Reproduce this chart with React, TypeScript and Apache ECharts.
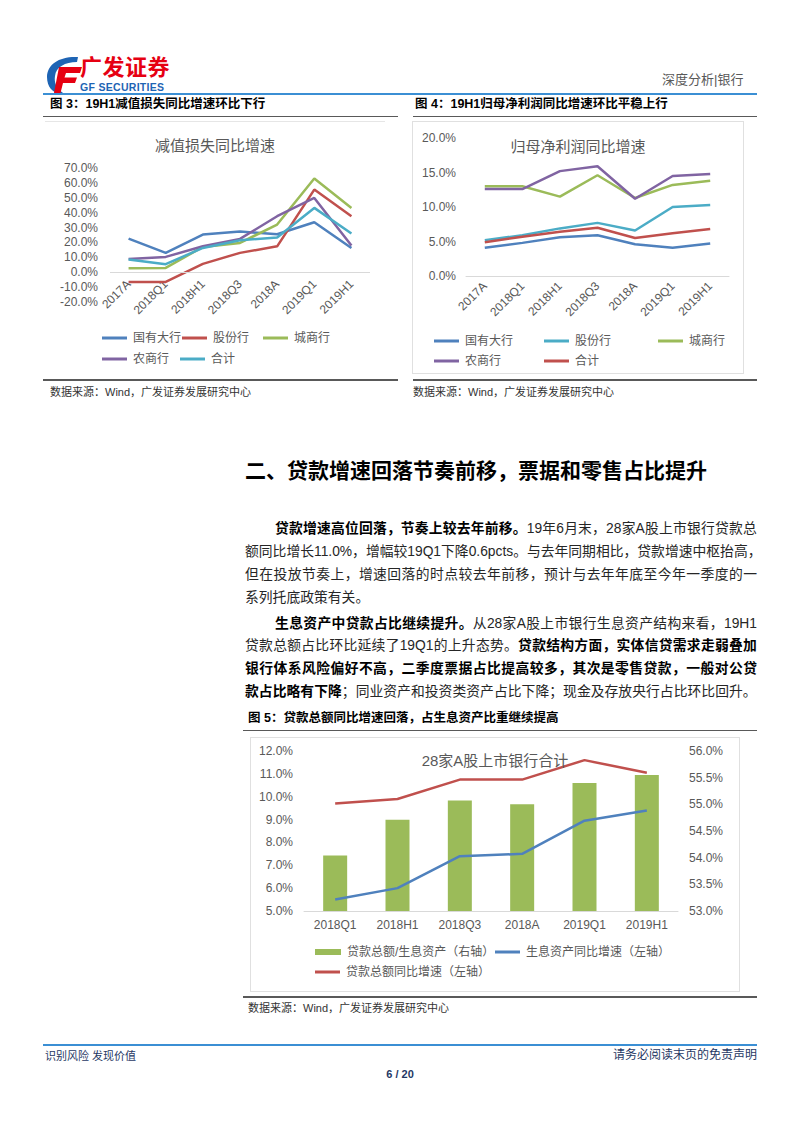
import React, { useEffect, useRef } from "react";
import * as echarts from "echarts";

const FONT = '"Liberation Sans", "Noto Sans CJK SC", Arial, sans-serif';

// ---------- Data ----------
const cats34 = ["2017A", "2018Q1", "2018H1", "2018Q3", "2018A", "2019Q1", "2019H1"];
const groupNames = ["国有大行", "股份行", "城商行", "农商行", "合计"];

// 图3 减值损失同比增速 (%)
const impGuoyou = [22.6, 13.0, 25.3, 27.3, 25.5, 33.6, 16.3];
const impGufen = [-6.5, -6.5, 5.6, 13.0, 17.4, 55.5, 37.6];
const impChengshang = [2.7, 2.9, 17.0, 19.7, 32.0, 62.9, 43.2];
const impNongshang = [8.9, 10.3, 17.4, 22.4, 37.6, 49.9, 17.9];
const impTotal = [8.5, 5.4, 16.3, 21.5, 23.3, 43.2, 26.0];

// 图4 归母净利润同比增速 (%)
const npGuoyou = [4.1, 4.8, 5.6, 5.9, 4.6, 4.1, 4.7];
const npGufen = [5.2, 5.9, 6.9, 7.7, 6.6, 10.0, 10.3];
const npChengshang = [13.0, 13.0, 11.5, 14.6, 11.3, 13.2, 13.8];
const npNongshang = [12.6, 12.6, 15.2, 15.9, 11.2, 14.5, 14.8];
const npTotal = [4.9, 5.7, 6.4, 7.0, 5.5, 6.2, 6.8];

// 图5
const cats5 = ["2018Q1", "2018H1", "2018Q3", "2018A", "2019Q1", "2019H1"];
const loanShare = [54.04, 54.71, 55.07, 55.0, 55.4, 55.55]; // 右轴
const iaGrowth = [5.5, 6.0, 7.4, 7.5, 8.95, 9.4]; // 左轴
const loanGrowth = [9.7, 9.9, 10.75, 10.75, 11.6, 11.05]; // 左轴
const s5Names = ["贷款总额/生息资产（右轴）", "生息资产同比增速（左轴）", "贷款总额同比增速（左轴）"];

const C_BLUE = "#4F81BD";
const C_RED = "#C0504D";
const C_GREEN = "#9BBB59";
const C_PURPLE = "#8064A2";
const C_CYAN = "#4BACC6";
const GRAY = "#595959";

const pct1 = (v: number) => v.toFixed(1) + "%";

function legendItem(name: string, left: number, top: number, w = 25, h = 3) {
  return {
    data: [name],
    left,
    top,
    icon: "rect",
    itemWidth: w,
    itemHeight: h,
    itemGap: 0,
    padding: 0,
    selectedMode: false,
    textStyle: { fontSize: 12, color: GRAY, fontFamily: FONT, padding: [0, 0, 0, 1] },
  };
}

function lineSeries(name: string, data: number[], color: string, extra: any = {}) {
  return {
    type: "line",
    name,
    data,
    color,
    showSymbol: false,
    symbol: "none",
    lineStyle: { width: 2.5, color },
    ...extra,
  };
}

const option3: any = {
  animation: false,
  textStyle: { fontFamily: FONT },
  title: {
    text: "减值损失同比增速",
    left: "center",
    top: 11,
    textStyle: { fontSize: 15, fontWeight: "normal", color: GRAY, fontFamily: FONT },
  },
  grid: { left: 65, right: 15, top: 46, bottom: 74 },
  xAxis: {
    type: "category",
    data: cats34,
    offset: -30, // category labels sit just under the 0% line, as in the original
    axisLine: { show: false, onZero: false },
    axisTick: { show: false },
    axisLabel: { rotate: 45, margin: 10, fontSize: 12, color: GRAY, fontFamily: FONT },
  },
  yAxis: {
    type: "value",
    min: -20,
    max: 70,
    interval: 10,
    axisLine: { show: false },
    axisTick: { show: false },
    splitLine: { show: false },
    axisLabel: { margin: 12, fontSize: 12, color: GRAY, fontFamily: FONT, formatter: pct1 },
  },
  legend: [
    legendItem(groupNames[0], 57, 210),
    legendItem(groupNames[1], 137, 210),
    legendItem(groupNames[2], 218, 210),
    legendItem(groupNames[3], 57, 231),
    legendItem(groupNames[4], 135, 231),
  ],
  series: [
    lineSeries(groupNames[0], impGuoyou, C_BLUE, {
      markLine: {
        silent: true,
        symbol: "none",
        label: { show: false },
        lineStyle: { color: "#d9d9d9", width: 1, type: "solid" },
        data: [{ yAxis: 0 }],
      },
    }),
    lineSeries(groupNames[1], impGufen, C_RED),
    lineSeries(groupNames[2], impChengshang, C_GREEN),
    lineSeries(groupNames[3], impNongshang, C_PURPLE),
    lineSeries(groupNames[4], impTotal, C_CYAN),
  ],
};

const option4: any = {
  animation: false,
  textStyle: { fontFamily: FONT },
  title: {
    text: "归母净利润同比增速",
    left: "center",
    top: 12,
    textStyle: { fontSize: 15, fontWeight: "normal", color: GRAY, fontFamily: FONT },
  },
  grid: { left: 53, right: 14, top: 16, bottom: 97 },
  xAxis: {
    type: "category",
    data: cats34,
    axisLine: { show: true, lineStyle: { color: "#d9d9d9" } },
    axisTick: { show: false },
    axisLabel: { rotate: 45, margin: 8, fontSize: 12, color: GRAY, fontFamily: FONT },
  },
  yAxis: {
    type: "value",
    min: 0,
    max: 20,
    interval: 5,
    axisLine: { show: false },
    axisTick: { show: false },
    splitLine: { show: false },
    axisLabel: { margin: 10, fontSize: 12, color: GRAY, fontFamily: FONT, formatter: pct1 },
  },
  legend: [
    legendItem(groupNames[0], 21, 213),
    legendItem(groupNames[1], 131, 213),
    legendItem(groupNames[2], 245, 213),
    legendItem(groupNames[3], 21, 233),
    legendItem(groupNames[4], 131, 233),
  ],
  series: [
    lineSeries(groupNames[0], npGuoyou, C_BLUE),
    lineSeries(groupNames[1], npGufen, C_CYAN),
    lineSeries(groupNames[2], npChengshang, C_GREEN),
    lineSeries(groupNames[3], npNongshang, C_PURPLE),
    lineSeries(groupNames[4], npTotal, C_RED),
  ],
};

const option5: any = {
  animation: false,
  textStyle: { fontFamily: FONT },
  title: {
    text: "28家A股上市银行合计",
    left: "center",
    top: 10,
    textStyle: { fontSize: 15, fontWeight: "normal", color: GRAY, fontFamily: FONT },
  },
  grid: { left: 53, right: 61, top: 13, bottom: 80 },
  xAxis: {
    type: "category",
    data: cats5,
    axisLine: { show: true, lineStyle: { color: "#d9d9d9" } },
    axisTick: { show: false },
    axisLabel: { margin: 8, fontSize: 12, color: GRAY, fontFamily: FONT },
  },
  yAxis: [
    {
      type: "value",
      min: 5,
      max: 12,
      interval: 1,
      axisLine: { show: false },
      axisTick: { show: false },
      splitLine: { show: false },
      axisLabel: { margin: 11, fontSize: 12, color: GRAY, fontFamily: FONT, formatter: pct1 },
    },
    {
      type: "value",
      min: 53,
      max: 56,
      interval: 0.5,
      position: "right",
      axisLine: { show: false },
      axisTick: { show: false },
      splitLine: { show: false },
      axisLabel: { margin: 11, fontSize: 12, color: GRAY, fontFamily: FONT, formatter: pct1 },
    },
  ],
  legend: [
    legendItem(s5Names[0], 64, 208, 26, 6),
    legendItem(s5Names[1], 244, 208),
    legendItem(s5Names[2], 64, 228),
  ],
  series: [
    {
      type: "bar",
      name: s5Names[0],
      data: loanShare,
      yAxisIndex: 1,
      barWidth: 24,
      itemStyle: { color: C_GREEN },
      color: C_GREEN,
    },
    lineSeries(s5Names[1], iaGrowth, C_BLUE, { yAxisIndex: 0 }),
    lineSeries(s5Names[2], loanGrowth, C_RED, { yAxisIndex: 0 }),
  ],
};

function EChart({ option, style }: { option: any; style: React.CSSProperties }) {
  const ref = useRef<HTMLDivElement>(null);
  useEffect(() => {
    if (!ref.current) return;
    const chart = echarts.init(ref.current, null, { renderer: "svg" });
    chart.setOption(option);
    return () => chart.dispose();
  }, [option]);
  return <div ref={ref} style={style} />;
}

const abs = (left: number, top: number, extra: React.CSSProperties = {}): React.CSSProperties => ({
  position: "absolute",
  left,
  top,
  ...extra,
});

function TextAt({
  left,
  cy,
  size,
  children,
  style = {},
}: {
  left: number;
  cy: number;
  size: number;
  children: React.ReactNode;
  style?: React.CSSProperties;
}) {
  const lh = Math.round(size * 1.4);
  return (
    <div
      style={{
        position: "absolute",
        left,
        top: cy - lh / 2,
        fontSize: size,
        lineHeight: lh + "px",
        whiteSpace: "nowrap",
        ...style,
      }}
    >
      {children}
    </div>
  );
}

type Seg = [string, boolean];

// Splits a paragraph line into tokens (CJK chars individually, Latin/number runs kept together)
// and spreads them across the full line width, like justified text.
function ParaLine({ cy, indent, last, segs }: { cy: number; indent?: boolean; last?: boolean; segs: Seg[] }) {
  const left = indent ? 275 : 245;
  const toks: { t: string; b: boolean }[] = [];
  segs.forEach(([s, b]) => {
    (s.match(/[A-Za-z0-9.%]+|[\s\S]/g) || []).forEach((t) => toks.push({ t, b }));
  });
  return (
    <div
      style={{
        position: "absolute",
        left,
        width: 757 - left,
        top: cy - 11,
        height: 22,
        lineHeight: "22px",
        fontSize: 13.8,
        color: "#262626",
        display: "flex",
        flexWrap: "nowrap",
        justifyContent: last ? "flex-start" : "space-between",
        whiteSpace: "nowrap",
      }}
    >
      {toks.map((k, i) => (
        <span key={i} style={k.b ? { fontWeight: 700, color: "#000" } : undefined}>
          {k.t}
        </span>
      ))}
    </div>
  );
}

export default function App() {
  const dark = "#1f3864";
  return (
    <div
      style={{
        position: "absolute",
        left: 0,
        top: 0,
        width: 802,
        height: 1133,
        background: "#fff",
        overflow: "hidden",
        fontFamily: FONT,
        color: "#000",
      }}
    >
      {/* Logo */}
      <svg width={40} height={40} style={abs(44, 55)} viewBox="0 0 40 40">
        <path d="M34 2 C16 1 3 9 3 22 C3 32 9 38 15 38 L19 38 C12 33 10 27 11 21 C12 12 21 7 33 7 Z" fill="#1e64b4" />
        <path d="M15 12 L38 12 L36 18 L22 18 L20.5 22.5 L33 22.5 L31 28 L19 28 L16.5 38 L10 38 Z" fill="#e60012" />
      </svg>
      <div style={abs(80, 55, { fontSize: 22, fontWeight: 700, color: "#e60012", letterSpacing: 0.5, lineHeight: "26px" })}>
        广发证券
      </div>
      <div style={abs(80, 81, { fontSize: 10.5, fontWeight: 700, color: "#1e64b4", lineHeight: "12px", letterSpacing: 0.3 })}>
        GF SECURITIES
      </div>
      <TextAt left={662} cy={80} size={13} style={{ color: GRAY }}>
        深度分析|银行
      </TextAt>
      <div style={abs(43, 93, { width: 714, height: 2, background: "#3b8fd4" })} />

      {/* Figure 3 & 4 titles */}
      <TextAt left={50} cy={104} size={12.5} style={{ fontWeight: 700 }}>
        图 3：19H1减值损失同比增速环比下行
      </TextAt>
      <div style={abs(43, 116, { width: 355, height: 1, background: "#595959" })} />
      <TextAt left={415} cy={104} size={12.5} style={{ fontWeight: 700 }}>
        图 4：19H1归母净利润同比增速环比平稳上行
      </TextAt>
      <div style={abs(413, 116, { width: 344, height: 1, background: "#595959" })} />

      <EChart option={option3} style={abs(45, 121, { width: 340, height: 255, borderTop: "1px solid #e6e6e6", boxSizing: "border-box" })} />
      <EChart option={option4} style={abs(412, 121, { width: 332, height: 253, border: "1px solid #e0e0e0", boxSizing: "border-box" })} />

      <div style={abs(43, 379, { width: 355, height: 2, background: "#595959" })} />
      <div style={abs(413, 379, { width: 344, height: 2, background: "#595959" })} />
      <TextAt left={50} cy={392} size={11} style={{ color: "#333" }}>
        数据来源：Wind，广发证券发展研究中心
      </TextAt>
      <TextAt left={413} cy={392} size={11} style={{ color: "#333" }}>
        数据来源：Wind，广发证券发展研究中心
      </TextAt>

      {/* Section heading */}
      <TextAt left={245} cy={470} size={21} style={{ fontWeight: 700 }}>
        二、贷款增速回落节奏前移，票据和零售占比提升
      </TextAt>

      {/* Paragraph 1 */}
      <ParaLine
        cy={529}
        indent
        segs={[
          ["贷款增速高位回落，节奏上较去年前移。", true],
          ["19年6月末，28家A股上市银行贷款总", false],
        ]}
      />
      <ParaLine cy={552} segs={[["额同比增长11.0%，增幅较19Q1下降0.6pcts。与去年同期相比，贷款增速中枢抬高，", false]]} />
      <ParaLine cy={575} segs={[["但在投放节奏上，增速回落的时点较去年前移，预计与去年年底至今年一季度的一", false]]} />
      <ParaLine cy={598} last segs={[["系列托底政策有关。", false]]} />

      {/* Paragraph 2 */}
      <ParaLine
        cy={624}
        indent
        segs={[
          ["生息资产中贷款占比继续提升。", true],
          ["从28家A股上市银行生息资产结构来看，19H1", false],
        ]}
      />
      <ParaLine
        cy={646}
        segs={[
          ["贷款总额占比环比延续了19Q1的上升态势。", false],
          ["贷款结构方面，实体信贷需求走弱叠加", true],
        ]}
      />
      <ParaLine cy={669} segs={[["银行体系风险偏好不高，二季度票据占比提高较多，其次是零售贷款，一般对公贷", true]]} />
      <ParaLine
        cy={692}
        segs={[
          ["款占比略有下降", true],
          ["；同业资产和投资类资产占比下降；现金及存放央行占比环比回升。", false],
        ]}
      />

      {/* Figure 5 */}
      <TextAt left={248} cy={718} size={12.5} style={{ fontWeight: 700 }}>
        图 5：贷款总额同比增速回落，占生息资产比重继续提高
      </TextAt>
      <div style={abs(243, 730, { width: 514, height: 1, background: "#595959" })} />
      <EChart option={option5} style={abs(250, 737, { width: 490, height: 255, border: "1px solid #e0e0e0", boxSizing: "border-box" })} />
      <div style={abs(243, 996, { width: 514, height: 2, background: "#595959" })} />
      <TextAt left={248} cy={1008} size={11} style={{ color: "#333" }}>
        数据来源：Wind，广发证券发展研究中心
      </TextAt>

      {/* Footer */}
      <div style={abs(43, 1044, { width: 714, height: 2, background: "#3b8fd4" })} />
      <TextAt left={45} cy={1056} size={11} style={{ color: dark }}>
        识别风险 发现价值
      </TextAt>
      <div style={abs(457, 1047, { width: 300, textAlign: "right", fontSize: 12, lineHeight: "17px", color: dark })}>
        请务必阅读末页的免责声明
      </div>
      <div style={abs(350, 1067, { width: 100, textAlign: "center", fontSize: 11, lineHeight: "15px", color: dark, fontWeight: 700 })}>
        6 / 20
      </div>
    </div>
  );
}
